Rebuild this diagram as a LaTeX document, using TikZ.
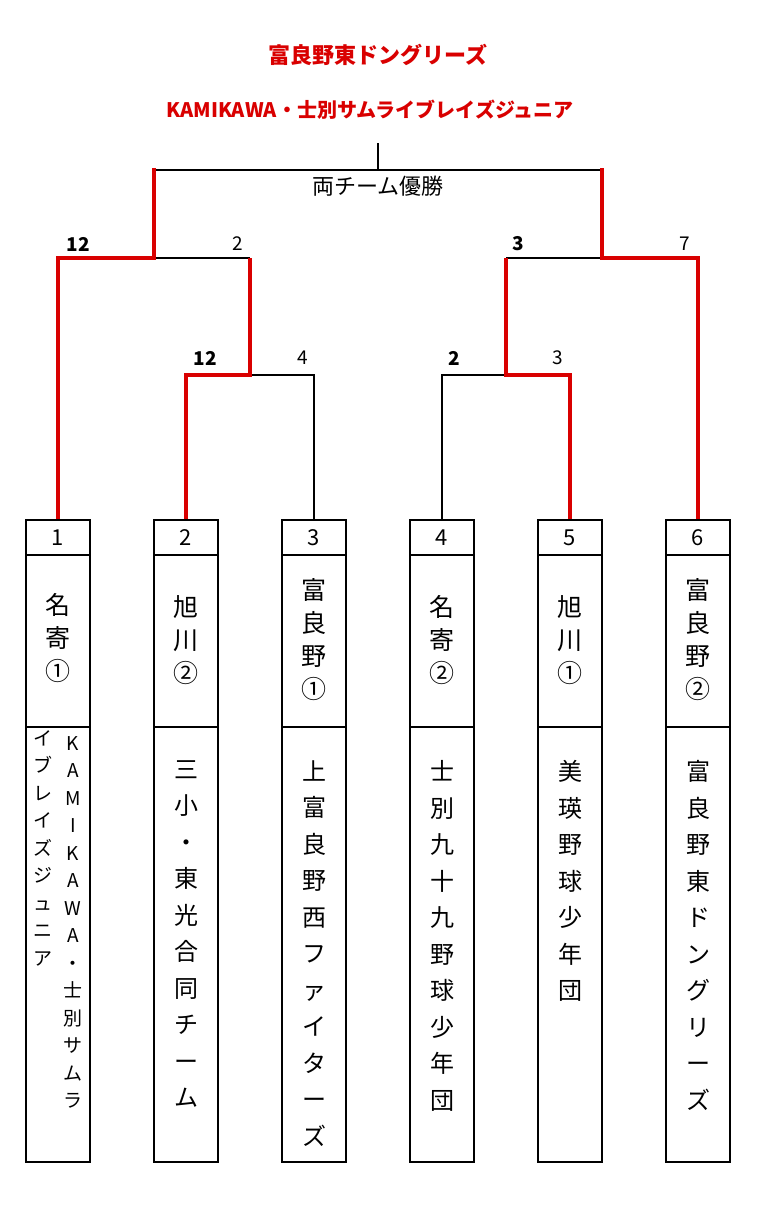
\documentclass[tikz,border=0pt]{standalone}
\usepackage{fontspec}
\setmainfont{Noto Sans CJK JP}
\begin{document}
\begin{tikzpicture}[x=1pt,y=-1pt,
  blk/.style={line width=1.3pt,black},
  win/.style={line width=4pt,red!85!black},
  bx/.style={draw,line width=1.3pt,minimum width=64pt,inner sep=0pt},
  sc/.style={font=\fontsize{19}{19}\selectfont},
  scb/.style={font=\bfseries\fontsize{19}{19}\selectfont},
  nm/.style={align=center,font=\fontsize{25}{33}\selectfont},
  tm/.style={align=center,font=\fontsize{24}{36.5}\selectfont},
  tms/.style={align=center,font=\fontsize{19}{27.5}\selectfont}]
\useasboundingbox (0,0) rectangle (758,1205);
\fill[white] (0,0) rectangle (758,1205);
% titles
\node[text=red!85!black,font=\bfseries\fontsize{22}{22}\selectfont] (t1) at (378,55) {富良野東ドングリーズ};
\begin{scope}
\clip (156,80) rectangle (620,140);
\node[text=red!85!black,font=\bfseries\fontsize{20}{20}\selectfont] (t2) at (370,110) {KAMIKAWA・士別サムライブレイズジュニア};
\end{scope}
\node[font=\fontsize{22}{22}\selectfont] (t3) at (378,186) {両チーム優勝};
% boxes
\foreach \i/\x in {1/58,2/186,3/314,4/442,5/570,6/698}{
  \node[bx,minimum height=35pt] (n\i) at (\x,537.5) {\fontsize{22}{22}\selectfont\i};
  \node[bx,minimum height=172pt] (p\i) at (\x,641) {};
  \node[bx,minimum height=435pt] (q\i) at (\x,944.5) {};
}
\node[nm] at (58,638) {名\\寄\\①};
\node[nm] at (186,640) {旭\\川\\②};
\node[nm] at (314,640) {富\\良\\野\\①};
\node[nm] at (442,640) {名\\寄\\②};
\node[nm] at (570,640) {旭\\川\\①};
\node[nm] at (698,640) {富\\良\\野\\②};
\node[tms,anchor=north] at (73,733) {K\\A\\M\\I\\K\\A\\W\\A\\・\\士\\別\\サ\\ム\\ラ};
\node[tms,anchor=north] at (43,727) {イ\\ブ\\レ\\イ\\ズ\\ジ\\ュ\\ニ\\ア};
\node[tm,anchor=north] at (186,757) {三\\小\\・\\東\\光\\合\\同\\チ\\ー\\ム};
\node[tm,anchor=north] at (314,757) {上\\富\\良\\野\\西\\フ\\ァ\\イ\\タ\\ー\\ズ};
\node[tm,anchor=north] at (442,757) {士\\別\\九\\十\\九\\野\\球\\少\\年\\団};
\node[tm,anchor=north] at (570,757) {美\\瑛\\野\\球\\少\\年\\団};
\node[tm,anchor=north] at (698,757) {富\\良\\野\\東\\ド\\ン\\グ\\リ\\ー\\ズ};
% bracket black
\coordinate (top) at (378,143);
\draw[blk] (top) -- (378,170);
\draw[blk] (154,170) -- (602,170);
\draw[blk] (154,258) -- (250,258);
\draw[blk] (506,258) -- (602,258);
\draw[blk] (250,375) -- (314,375) -- (n3.north);
\draw[blk] (n4.north) -- (442,375) -- (506,375);
% red
\draw[win] (n1.north) -- (58,258) -- (154,258) -- (154,168);
\draw[win] (n2.north) -- (186,375) -- (250,375) -- (250,258);
\draw[win] (n5.north) -- (570,375) -- (506,375) -- (506,258);
\draw[win] (n6.north) -- (698,258) -- (602,258) -- (602,168);
% scores
\node[scb] at (78,244) {12};
\node[sc] at (238,244) {2};
\node[scb] at (205,358) {12};
\node[sc] at (303,358) {4};
\node[scb] at (454,358) {2};
\node[sc] at (558,358) {3};
\node[scb] at (518,244) {3};
\node[sc] at (685,244) {7};
\end{tikzpicture}
\end{document}
